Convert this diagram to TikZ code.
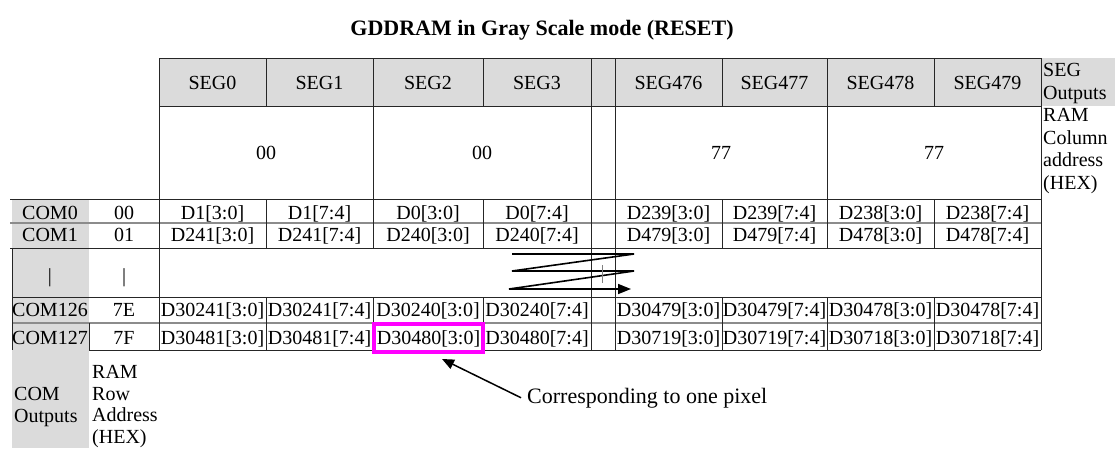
\documentclass[tikz,border=0pt]{standalone}
\usepackage{fontspec}
\setmainfont{Liberation Serif}
\usetikzlibrary{arrows.meta}
\definecolor{pixmag}{RGB}{255,0,255}
\begin{document}
\begin{tikzpicture}[x=1pt,y=-1pt,
  cell/.style={inner sep=0pt, text height=13.2pt, text depth=0pt, font=\fontsize{20}{22}\selectfont, anchor=center},
  grid/.style={line width=1pt, draw=black!85},
  sepline/.style={line width=1.6pt, draw=black!45},
  hdrfill/.style={fill=black!14},
  lbl/.style={inner sep=0pt, align=left, anchor=north west, font=\fontsize{20}{22.7}\selectfont},
  bigarrow/.style={line width=1.5pt, -{Triangle[length=12pt,width=10pt]}},
  pixbox/.style={draw=pixmag, line width=4pt, minimum width=109pt, minimum height=28pt, inner sep=0pt},
]
\useasboundingbox (0,0) rectangle (1115,448);
\fill[white] (0,0) rectangle (1115,448);
% fills
\fill[hdrfill] (159,58) rectangle (1041,106);
\fill[hdrfill] (1041,58) rectangle (1115,106);
\fill[hdrfill] (12,199) rectangle (89,448);
% title
\node[font=\fontsize{22}{24}\selectfont\bfseries, anchor=base, inner sep=0pt] (title) at (542,35) {GDDRAM in Gray Scale mode (RESET)};
% horizontal lines
\draw[grid] (159,58) -- (1041,58);
\draw[grid] (159,106) -- (1041,106);
\draw[grid] (10,199) -- (1041,199);
\draw[sepline] (10,223) -- (1041,223);
\draw[grid] (10,248) -- (1041,248);
\draw[grid] (12,297) -- (1041,297);
\draw[sepline] (12,323) -- (1041,323);
\draw[grid] (89,350) -- (1041,350);
% vertical lines
\foreach \x in {159,591,615,1041} \draw[grid] (\x,58) -- (\x,350);
\foreach \x in {373,827} {\draw[grid] (\x,58) -- (\x,248); \draw[grid] (\x,297) -- (\x,350);}
\foreach \x in {266,483,722,934} {\draw[grid] (\x,58) -- (\x,106); \draw[grid] (\x,199) -- (\x,248); \draw[grid] (\x,297) -- (\x,350);}
\draw[grid] (12,248) -- (12,350);
\draw[grid] (89,323) -- (89,350);
% header
\foreach \x/\t [count=\i] in {212.5/SEG0, 319.5/SEG1, 428/SEG2, 537/SEG3, 668.5/SEG476, 774.5/SEG477, 880.5/SEG478, 987.5/SEG479}
  \node[cell] (seg\i) at (\x,83) {\t};
% column addresses
\foreach \x/\t [count=\i] in {266/00, 482/00, 721/77, 934/77}
  \node[cell] (ca\i) at (\x,153) {\t};
% row labels
\foreach \y/\c/\h [count=\i] in {212.5/COM0/00, 235/COM1/01, 310/COM126/7E, 338/COM127/7F} {
  \node[cell] (com\i) at (50,\y) {\c};
  \node[cell] (hex\i) at (124,\y) {\h};
}
\node[cell] (comdots) at (50,276) {|};
\node[cell] (hexdots) at (124,276) {|};
% data rows
\foreach \x/\t [count=\i] in {212.5/D1[3:0], 319.5/D1[7:4], 428/D0[3:0], 537/D0[7:4], 668.5/D239[3:0], 774.5/D239[7:4], 880.5/D238[3:0], 987.5/D238[7:4]}
  \node[cell] (ra\i) at (\x,212.5) {\t};
\foreach \x/\t [count=\i] in {212.5/D241[3:0], 319.5/D241[7:4], 428/D240[3:0], 537/D240[7:4], 668.5/D479[3:0], 774.5/D479[7:4], 880.5/D478[3:0], 987.5/D478[7:4]}
  \node[cell] (rb\i) at (\x,235) {\t};
\foreach \x/\t [count=\i] in {212.5/D30241[3:0], 319.5/D30241[7:4], 428/D30240[3:0], 537/D30240[7:4], 668.5/D30479[3:0], 774.5/D30479[7:4], 880.5/D30478[3:0], 987.5/D30478[7:4]}
  \node[cell] (rc\i) at (\x,310) {\t};
\foreach \x/\t [count=\i] in {212.5/D30481[3:0], 319.5/D30481[7:4], 537/D30480[7:4], 668.5/D30719[3:0], 774.5/D30719[7:4], 880.5/D30718[3:0], 987.5/D30718[7:4]}
  \node[cell] (rd\i) at (\x,338) {\t};
\node[cell, pixbox] (pix) at (428.5,338) {D30480[3:0]};
% side labels
\node[lbl] (segout) at (1043,63) {SEG\\Outputs};
\node[lbl] (ramcol) at (1043,108) {RAM\\Column\\address\\(HEX)};
\node[lbl, font=\fontsize{20}{21.7}\selectfont] (comout) at (14,387) {COM\\Outputs};
\node[lbl, font=\fontsize{20}{21.7}\selectfont] (ramrow) at (92,365) {RAM\\Row\\Address\\(HEX)};
% scan-order zigzag
\coordinate (z1) at (512,254);
\coordinate (z2) at (634,254);
\coordinate (z3) at (512,271);
\coordinate (z4) at (634,271);
\coordinate (z5) at (509,289);
\coordinate (z6) at (631,289);
\draw[line width=1.6pt, line join=miter, -{Triangle[length=13pt,width=10pt]}] (z1) -- (z2) -- (z3) -- (z4) -- (z5) -- (z6);
\draw[line width=0.6pt, draw=black!50] (602,265) -- (602,283);
% annotation
\node[font=\fontsize{22}{24}\selectfont, anchor=base west, inner sep=0pt] (note) at (527,403) {Corresponding to one pixel};
\coordinate (tip) at (442,359);
\draw[bigarrow] ([xshift=-6pt]note.west) -- (tip);
\end{tikzpicture}
\end{document}
